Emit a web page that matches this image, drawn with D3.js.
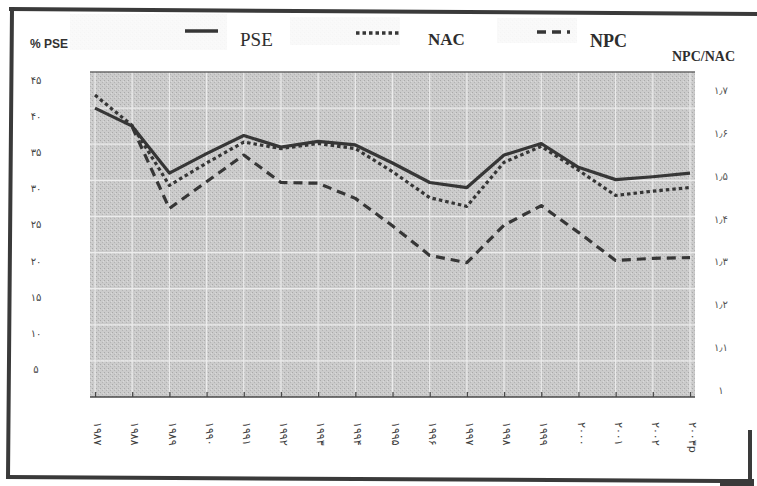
<!DOCTYPE html>
<html>
<head>
<meta charset="utf-8">
<script src="https://cdn.jsdelivr.net/npm/d3@7"></script>
<style>
  body { margin: 0; background: #fff; }
  svg { display: block; }
</style>
</head>
<body>
<svg id="chart" width="757" height="486"></svg>
<script>
// data (NPC drawn against the left scale)
const years = ["1987", "1988", "1989", "1990", "1991", "1992", "1993", "1994", "1995",
  "1996", "1997", "1998", "1999", "2000", "2001", "2002", "2003p"];
const yearLabels = ["۱۹۸۷", "۱۹۸۸", "۱۹۸۹", "۱۹۹۰", "۱۹۹۱", "۱۹۹۲", "۱۹۹۳", "۱۹۹۴", "۱۹۹۵",
  "۱۹۹۶", "۱۹۹۷", "۱۹۹۸", "۱۹۹۹", "۲۰۰۰", "۲۰۰۱", "۲۰۰۲", "۲۰۰۳p"];
const pse = [40, 37.5, 31, 33.7, 36.2, 34.6, 35.4, 34.9, 32.4, 29.7, 29.0, 33.5, 35.1, 31.8, 30.1, 30.5, 31.0];
const nac = [41.8, 37.6, 29.3, 32.4, 35.3, 34.4, 35.1, 34.4, 31.2, 27.6, 26.4, 32.5, 34.7, 31.4, 27.9, 28.5, 29.0];
const npc = [null, 37.4, 26.1, 29.8, 33.5, 29.7, 29.6, 27.5, 23.7, 19.6, 18.6, 23.8, 26.5, 22.8, 18.9, 19.2, 19.3];
const leftTicks = [5, 10, 15, 20, 25, 30, 35, 40, 45];
const rightTicks = [1, 1.1, 1.2, 1.3, 1.4, 1.5, 1.6, 1.7];

const faDigits = "۰۱۲۳۴۵۶۷۸۹";
const toFa = (v) => String(v).replace(/\d/g, (c) => faDigits[+c]).replace(".", "٫");

const svg = d3.select("#chart");
const ink = "#363636";

const plot = { left: 90, right: 695, top: 72, bottom: 397 };

const x = d3.scalePoint().domain(years).range([95, 690]);
const y = d3.scaleLinear().domain([0, 45]).range([plot.bottom, plot.top]);
const yRight = d3.scaleLinear().domain([1, 1.7]).range([391, 91]);

// stippled grey plot background
const defs = svg.append("defs");
const pat = defs.append("pattern")
  .attr("id", "stipple")
  .attr("width", 4)
  .attr("height", 4)
  .attr("patternUnits", "userSpaceOnUse");
pat.append("rect").attr("width", 4).attr("height", 4).attr("fill", "#cbcbcb");
pat.append("rect").attr("x", 0).attr("y", 0).attr("width", 1).attr("height", 1).attr("fill", "#a9a9a9");
pat.append("rect").attr("x", 2).attr("y", 2).attr("width", 1).attr("height", 1).attr("fill", "#b3b3b3");
pat.append("rect").attr("x", 3).attr("y", 1).attr("width", 1).attr("height", 1).attr("fill", "#dadada");

// faint patches behind the legend (scan artefacts)
[[70, 14, 157, 36], [290, 17, 110, 28], [497, 18, 80, 25]].forEach(([px, py, pw, ph]) => {
  svg.append("rect")
    .attr("x", px).attr("y", py).attr("width", pw).attr("height", ph)
    .attr("fill", "url(#stipple)")
    .attr("opacity", 0.12);
});

svg.append("rect")
  .attr("x", plot.left)
  .attr("y", plot.top)
  .attr("width", plot.right - plot.left)
  .attr("height", plot.bottom - plot.top)
  .attr("fill", "url(#stipple)");

// grid lines
const grid = svg.append("g").attr("stroke", "#ececec").attr("stroke-width", 1.2);
grid.selectAll(".hgrid")
  .data(leftTicks.slice(0, -1))
  .join("line")
  .attr("class", "hgrid")
  .attr("x1", plot.left).attr("x2", plot.right)
  .attr("y1", (d) => y(d)).attr("y2", (d) => y(d));
grid.selectAll(".vgrid")
  .data(years)
  .join("line")
  .attr("class", "vgrid")
  .attr("x1", (d) => x(d)).attr("x2", (d) => x(d))
  .attr("y1", plot.top).attr("y2", plot.bottom);

// top edge of plot
svg.append("line")
  .attr("x1", plot.left).attr("x2", plot.right)
  .attr("y1", plot.top).attr("y2", plot.top)
  .attr("stroke", "#6a6a6a").attr("stroke-width", 1.5);

// bottom axis, ticks pointing up
const xAxis = d3.axisBottom(x).tickSize(-5).tickSizeOuter(0).tickFormat("");
const gx = svg.append("g")
  .attr("transform", `translate(0,${plot.bottom})`)
  .call(xAxis);
gx.select(".domain").attr("d", `M${plot.left},0H${plot.right}`).attr("stroke", "#4a4a4a").attr("stroke-width", 1.5);
gx.selectAll(".tick line").attr("stroke", "#4a4a4a").attr("stroke-width", 1.3);

svg.selectAll(".xlab")
  .data(years)
  .join("text")
  .attr("class", "xlab")
  .attr("transform", (d) => `translate(${x(d) + 3},422) rotate(90)`)
  .attr("dy", "0.35em")
  .attr("direction", "ltr")
  .attr("font-family", "DejaVu Sans")
  .attr("font-size", 11)
  .attr("fill", "#3c3c3c")
  .text((d, i) => yearLabels[i]);

// left axis labels
svg.selectAll(".ylab")
  .data(leftTicks)
  .join("text")
  .attr("class", "ylab")
  .attr("x", 36)
  .attr("y", (d) => y(d) + 9)
  .attr("text-anchor", "middle")
  .attr("dominant-baseline", "middle")
  .attr("font-family", "DejaVu Sans")
  .attr("font-size", 10)
  .attr("fill", "#444")
  .text((d) => toFa(d));

// right axis labels
svg.selectAll(".rlab")
  .data(rightTicks)
  .join("text")
  .attr("class", "rlab")
  .attr("x", 721)
  .attr("y", (d) => yRight(d))
  .attr("text-anchor", "middle")
  .attr("dominant-baseline", "middle")
  .attr("font-family", "DejaVu Sans")
  .attr("font-size", 10)
  .attr("fill", "#555")
  .text((d) => toFa(d));

// series
const series = [
  { name: "PSE", values: pse, dash: null },
  { name: "NAC", values: nac, dash: "3.5,3" },
  { name: "NPC", values: npc, dash: "9,6" },
];

const line = d3.line()
  .defined((d) => d.v != null)
  .x((d) => x(d.year))
  .y((d) => y(d.v));

svg.selectAll(".series")
  .data(series)
  .join("path")
  .attr("class", "series")
  .attr("fill", "none")
  .attr("stroke", ink)
  .attr("stroke-width", 3.2)
  .attr("stroke-linejoin", "round")
  .attr("stroke-dasharray", (d) => d.dash)
  .attr("d", (d) => line(d.values.map((v, i) => ({ year: years[i], v }))));

// legend
const legend = [
  { x1: 185, x2: 218, ly: 31, dash: null, label: "PSE", tx: 240, ty: 46, size: 19, weight: "normal" },
  { x1: 356, x2: 399, ly: 33, dash: "3.5,3", label: "NAC", tx: 428, ty: 45, size: 17, weight: "bold" },
  { x1: 537, x2: 570, ly: 32, dash: "9,6", label: "NPC", tx: 590, ty: 47, size: 18, weight: "bold" },
];
legend.forEach((l) => {
  svg.append("line")
    .attr("x1", l.x1).attr("x2", l.x2)
    .attr("y1", l.ly).attr("y2", l.ly)
    .attr("stroke", ink)
    .attr("stroke-width", 3.5)
    .attr("stroke-dasharray", l.dash);
  svg.append("text")
    .attr("x", l.tx).attr("y", l.ty)
    .attr("font-family", "Liberation Serif")
    .attr("font-size", l.size)
    .attr("font-weight", l.weight)
    .attr("fill", "#2e2e2e")
    .text(l.label);
});

svg.append("text")
  .attr("x", 672).attr("y", 61)
  .attr("font-family", "Liberation Serif")
  .attr("font-size", 14)
  .attr("font-weight", "bold")
  .attr("fill", "#2e2e2e")
  .text("NPC/NAC");

svg.append("text")
  .attr("x", 30).attr("y", 48)
  .attr("font-family", "Liberation Sans Narrow, Liberation Sans")
  .attr("font-size", 12)
  .attr("font-weight", "bold")
  .attr("fill", "#333")
  .text("% PSE");

// frame of the scanned page
const frame = svg.append("g").attr("stroke", "#3a3a3a").attr("fill", "none").attr("stroke-linecap", "square");
frame.append("line").attr("x1", 11).attr("y1", 9).attr("x2", 757).attr("y2", 14).attr("stroke-width", 4);
frame.append("line").attr("x1", 12).attr("y1", 9).attr("x2", 8).attr("y2", 477).attr("stroke-width", 4);
frame.append("line").attr("x1", 8).attr("y1", 477).attr("x2", 720).attr("y2", 481).attr("stroke-width", 4);
frame.append("line").attr("x1", 750).attr("y1", 432).attr("x2", 750).attr("y2", 480).attr("stroke-width", 4);
svg.append("rect")
  .attr("x", 720).attr("y", 479).attr("width", 34).attr("height", 7)
  .attr("fill", "#3a3a3a");
</script>
</body>
</html>
